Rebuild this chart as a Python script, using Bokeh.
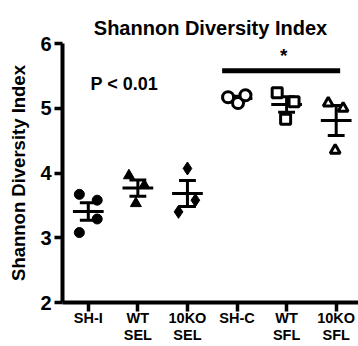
import numpy as np
from bokeh.plotting import figure
from bokeh.models import ColumnDataSource, Label, FixedTicker
from bokeh.embed import file_html
from bokeh.resources import INLINE

# ---- data ----
groups = ["SH-I", "WT\nSEL", "10KO\nSEL", "SH-C", "WT\nSFL", "10KO\nSFL"]
sh_i = [3.67, 3.58, 3.29, 3.08]
wt_sel = [3.96, 3.81, 3.53]
ko_sel = [4.07, 3.58, 3.40]
sh_c = [5.17, 5.08, 5.20]
wt_sfl = [5.24, 5.10, 4.83]
ko_sfl = [5.08, 5.00, 4.35]
# horizontal scatter of points within each column (in category units)
jit_sh_i = [-0.18, 0.18, 0.18, -0.18]
jit_wt_sel = [-0.18, 0.13, -0.04]
jit_ko_sel = [0.0, 0.16, -0.18]
jit_sh_c = [-0.18, 0.02, 0.17]
jit_wt_sfl = [-0.19, 0.15, -0.02]
jit_ko_sfl = [-0.16, 0.14, -0.02]

series = [sh_i, wt_sel, ko_sel, sh_c, wt_sfl, ko_sfl]
jitters = [jit_sh_i, jit_wt_sel, jit_ko_sel, jit_sh_c, jit_wt_sfl, jit_ko_sfl]
markers = ["circle", "triangle", "diamond", "circle", "square", "triangle"]
filled = [True, True, True, False, False, False]
sizes = [10, 11, 13, 11, 10, 10]

FONT = "Liberation Sans"

p = figure(width=358, height=346, x_range=(0.48, 6.45), y_range=(2, 6),
           output_backend="svg", toolbar_location=None,
           min_border_left=62, min_border_bottom=44, min_border_top=43,
           min_border_right=0)
p.outline_line_color = None
p.grid.visible = False
p.background_fill_color = "white"
p.border_fill_color = "white"

p.title.text = "Shannon Diversity Index"
p.title.align = "center"
p.title.text_font = FONT
p.title.text_font_size = "20px"
p.title.text_font_style = "bold"
p.title.text_color = "#000000"

xa = p.xaxis[0]
xa.ticker = FixedTicker(ticks=list(range(1, 7)))
xa.major_label_overrides = {i + 1: g for i, g in enumerate(groups)}
ya = p.yaxis[0]
ya.ticker = FixedTicker(ticks=[2, 3, 4, 5, 6])
ya.axis_label = "Shannon Diversity Index"
ya.axis_label_text_font = FONT
ya.axis_label_text_font_size = "18.5px"
ya.axis_label_text_font_style = "bold"
ya.axis_label_text_color = "#000000"
ya.axis_label_standoff = 8
for ax in (xa, ya):
    ax.axis_line_width = 4
    ax.axis_line_color = "#000000"
    ax.major_tick_line_width = 3.5
    ax.major_tick_line_color = "#000000"
    ax.major_tick_in = 0
    ax.minor_tick_line_color = None
    ax.major_label_text_font = FONT
    ax.major_label_text_font_style = "bold"
    ax.major_label_text_color = "#000000"
xa.major_tick_out = 9
xa.major_label_standoff = -2
xa.major_label_text_font_size = "14.5px"
xa.major_label_text_line_height = 1.1
ya.major_tick_out = 8
ya.major_label_standoff = 3
ya.major_label_text_font_size = "20px"

MEAN_HALF = 0.31
CAP_HALF = 0.17
for i, (vals, jit) in enumerate(zip(series, jitters)):
    xc = i + 1
    v = np.array(vals, dtype=float)
    m = v.mean()
    sem = v.std(ddof=1) / np.sqrt(len(v))
    # mean line and SEM bars
    p.segment(x0=[xc - MEAN_HALF], x1=[xc + MEAN_HALF], y0=[m], y1=[m],
              line_color="black", line_width=3)
    p.segment(x0=[xc - CAP_HALF, xc - CAP_HALF, xc], x1=[xc + CAP_HALF, xc + CAP_HALF, xc],
              y0=[m + sem, m - sem, m - sem], y1=[m + sem, m - sem, m + sem],
              line_color="black", line_width=3)
    src = ColumnDataSource(dict(x=[xc + j for j in jit], y=list(vals)))
    if filled[i]:
        p.scatter("x", "y", source=src, marker=markers[i], size=sizes[i],
                  fill_color="black", line_color="black", line_width=1)
    else:
        p.scatter("x", "y", source=src, marker=markers[i], size=sizes[i],
                  fill_color="white", line_color="black", line_width=3)

# significance bar and annotations
p.segment(x0=[3.70], x1=[6.08], y0=[5.58], y1=[5.58], line_color="black",
          line_width=5, line_cap="butt")
p.add_layout(Label(x=4.94, y=5.82, text="*", text_font=FONT, text_font_size="19px",
                   text_font_style="bold", text_align="center", text_baseline="middle",
                   text_color="#000000"))
p.add_layout(Label(x=1.045, y=5.37, text="P < 0.01", text_font=FONT, text_font_size="18px",
                   text_font_style="bold", text_align="left", text_baseline="middle",
                   text_color="#000000"))

open("out.html", "w").write(file_html(p, INLINE))
